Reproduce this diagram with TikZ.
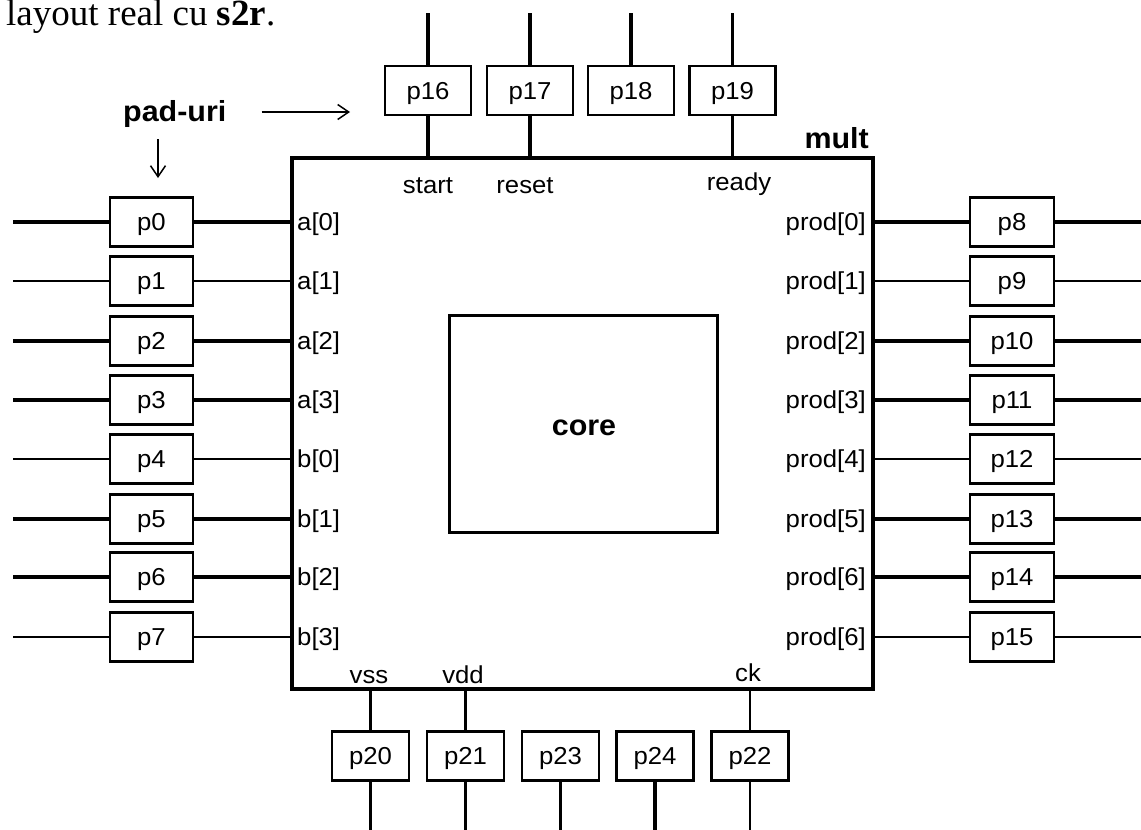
\documentclass[tikz,border=0pt]{standalone}
\usepackage{fontspec}
\setmainfont{Liberation Serif}
\newfontfamily\arialw[FakeStretch=1.05]{Liberation Sans}
\usetikzlibrary{arrows.meta}
\begin{document}
\begin{tikzpicture}[x=1pt,y=-1pt,
  lbl/.style={inner sep=0pt, font={\arialw\fontsize{24.5}{28}\selectfont}},
  blbl/.style={inner sep=0pt, font={\arialw\bfseries\fontsize{29}{32}\selectfont}},
  padbox/.style={draw, line width=2.4pt, inner sep=0pt, minimum height=49pt,
    text height=17.5pt, text depth=0pt,
    font={\arialw\fontsize{24.5}{28}\selectfont}},
  hpad/.style={padbox, minimum width=83pt},
  vpad/.style={padbox, minimum width=86pt},
  bpad/.style={padbox, minimum width=77pt},
  wthick/.style={line width=3.3pt},
  wthin/.style={line width=2.1pt},
  note/.style={line width=1.5pt, -{Straight Barb[length=11pt,width=15pt,line width=1.5pt]}}]
\useasboundingbox (0,0) rectangle (1141,830);

% title text
\node[anchor=base west, inner sep=0pt, font=\fontsize{37}{40}\selectfont] (title) at (6,25) {layout real cu \textbf{s2r}.};

% chip outline and core
\node[draw, line width=3.4pt, minimum width=581pt, minimum height=531pt, inner sep=0pt] (mult) at (582.5,423.5) {};
\node[draw, line width=3pt, minimum width=268pt, minimum height=217pt, inner sep=0pt] (core) at (583,423.5) {};
\node[blbl, anchor=base] (corelbl) at (584,435) {core};
\node[blbl, anchor=base east] (multlbl) at (869,148) {mult};

% free-end coordinates
\coordinate (lft) at (13,0);
\coordinate (rgt) at (1141,0);
\coordinate (tp) at (0,13);
\coordinate (bt) at (0,830);

% left pads
\foreach \i/\y/\w/\t in {0/222/wthick/a[0], 1/281/wthin/a[1], 2/341/wthick/a[2], 3/400/wthick/a[3],
                         4/459/wthin/b[0], 5/519/wthick/b[1], 6/577/wthick/b[2], 7/637/wthin/b[3]} {
  \node[hpad] (p\i) at (151.5,\y) {p\i};
  \draw[\w] (lft |- p\i) -- (p\i.west);
  \draw[\w] (p\i.east) -- (p\i.east -| mult.west);
  \node[lbl, anchor=base west] (la\i) at (297,\y+8) {\t};
}

% right pads
\foreach \i/\y/\w/\t in {8/222/wthick/prod[0], 9/281/wthin/prod[1], 10/341/wthick/prod[2], 11/400/wthick/prod[3],
                         12/459/wthin/prod[4], 13/519/wthick/prod[5], 14/577/wthick/prod[6], 15/637/wthin/prod[6]} {
  \node[hpad, minimum width=84pt] (p\i) at (1012,\y) {p\i};
  \draw[\w] (p\i.west) -- (p\i.west -| mult.east);
  \draw[\w] (p\i.east) -- (rgt |- p\i);
  \node[lbl, anchor=base east] (la\i) at (866,\y+8) {\t};
}

% top pads
\foreach \i/\x in {16/428, 17/530, 18/631, 19/732.5} {
  \node[vpad] (p\i) at (\x,90.5) {p\i};
  \draw[wthick] (p\i.north) -- (p\i.north |- tp);
}
\foreach \i in {16,17,19} {
  \draw[wthick] (p\i.south) -- (p\i.south |- mult.north);
}
\node[lbl, anchor=base] (lstart) at (428,193) {start};
\node[lbl, anchor=base] (lreset) at (525,193) {reset};
\node[lbl, anchor=base] (lready) at (739,190) {ready};

% bottom pads
\foreach \i/\x/\w in {20/370.5/wthick, 21/465.5/wthin, 23/560.5/wthick, 24/655/wthick, 22/750/wthin} {
  \node[bpad] (p\i) at (\x,756) {p\i};
  \draw[\w] (p\i.south) -- (p\i.south |- bt);
}
\draw[wthick] (p20.north) -- (p20.north |- mult.south);
\draw[wthin] (p21.north) -- (p21.north |- mult.south);
\draw[wthin] (p22.north) -- (p22.north |- mult.south);
\node[lbl, anchor=base] (lvss) at (369,683) {vss};
\node[lbl, anchor=base] (lvdd) at (463,683) {vdd};
\node[lbl, anchor=base] (lck) at (748,681) {ck};

% pad-uri annotation
\node[blbl, anchor=base west] (paduri) at (123,121) {pad-uri};
\coordinate (arrR) at (350,112);
\coordinate (arrD) at (158,178);
\draw[note] (paduri.east |- arrR) ++(35,0) -- (arrR);
\draw[note] (paduri.south -| arrD) ++(0,12) -- (arrD);
\end{tikzpicture}
\end{document}
